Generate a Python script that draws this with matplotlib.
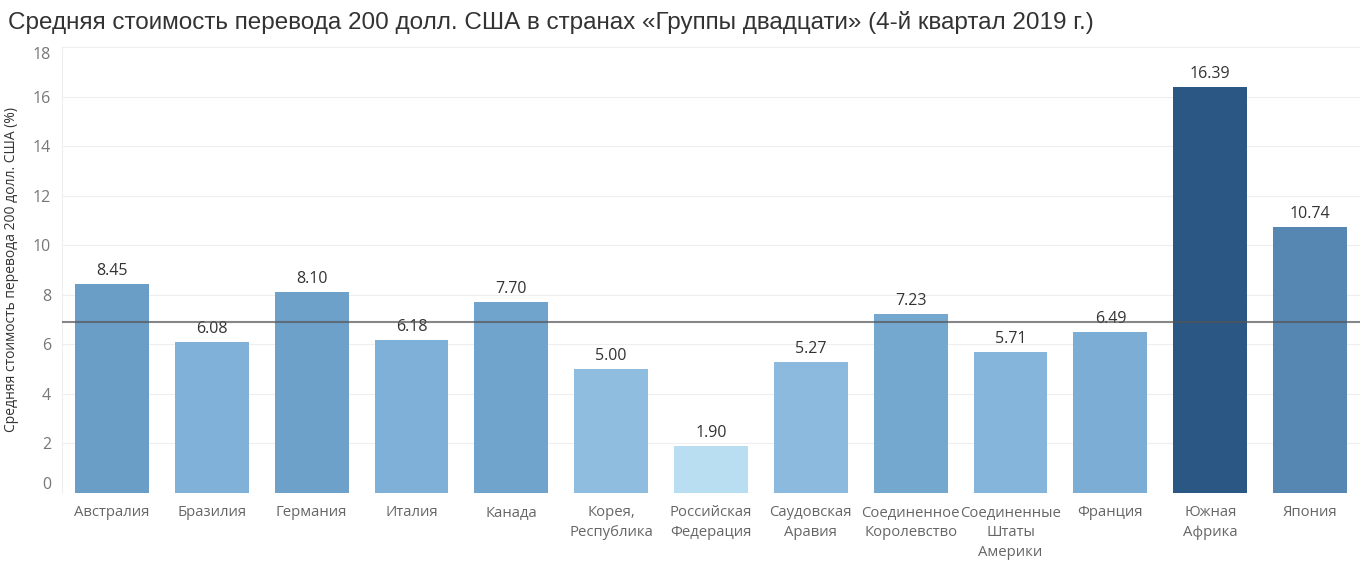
import numpy as np
import matplotlib
matplotlib.use('Agg')
import matplotlib.pyplot as plt
from matplotlib.colors import LinearSegmentedColormap, Normalize

# data
countries = ['Австралия', 'Бразилия', 'Германия', 'Италия', 'Канада',
             'Корея,\nРеспублика', 'Российская\nФедерация', 'Саудовская\nАравия',
             'Соединенное\nКоролевство', 'Соединенные\nШтаты\nАмерики', 'Франция',
             'Южная\nАфрика', 'Япония']
cost = [8.45, 6.08, 8.10, 6.18, 7.70, 5.00, 1.90, 5.27, 7.23, 5.71, 6.49, 16.39, 10.74]
ref_line = 6.9
yticks = [0, 2, 4, 6, 8, 10, 12, 14, 16, 18]

title = 'Средняя стоимость перевода 200 долл. США в странах «Группы двадцати» (4-й квартал 2019 г.)'
ylabel = 'Средняя стоимость перевода 200 долл. США (%)'

# sequential blue like tableau
cmap = LinearSegmentedColormap.from_list('tb', [
    (0.0, '#b9ddf1'), (0.214, '#8fbde0'), (0.288, '#80b1d8'),
    (0.452, '#6a9ec6'), (0.61, '#5687b3'), (1.0, '#2a5783')])
norm = Normalize(min(cost), max(cost))
colors = [cmap(norm(v)) for v in cost]

fig = plt.figure(figsize=(13.67, 5.78), dpi=100)
ax = fig.add_axes([62/1367, 85/578, 1298/1367, 446/578])

x = np.arange(len(countries))
bars = ax.bar(x, cost, width=0.74, color=colors, zorder=2)
for xi, v in zip(x, cost):
    ax.text(xi, v + 0.2, f'{v:.2f}', ha='center', va='bottom',
            fontsize=11.5, color='#333333', family='Open Sans')

ax.axhline(ref_line, color='#555555', alpha=0.7, lw=1.5, zorder=3)

ax.set_xlim(-0.5, len(countries) - 0.5)
ax.set_ylim(0, 18)
ax.set_yticks(yticks)
ax.set_xticks(x)
ax.set_xticklabels(countries, fontsize=10.7, color='#666666', family='Open Sans',
                   linespacing=1.45, va='top')
ax.tick_params(axis='x', length=0, pad=9)
ax.tick_params(axis='y', length=0, pad=8, labelsize=11.5, labelcolor='#777777')
for lab in ax.get_yticklabels():
    lab.set_family('Open Sans')
ylabs = ax.get_yticklabels()
ylabs[0].set_va('bottom')
ylabs[-1].set_va('top')

ax.grid(axis='y', color='#eeeeee', lw=0.8, zorder=0)
for s in ['top', 'right', 'bottom']:
    ax.spines[s].set_visible(False)
ax.spines['left'].set_color('#eeeeee')

ax.set_ylabel(ylabel, fontsize=10, color='#333333', family='Open Sans', labelpad=10)
fig.text(8/1367, 1 - 22/578, title, fontsize=17.5, color='#333333',
         family='Liberation Sans', va='center', ha='left')

fig.savefig('out.png', dpi=100)
